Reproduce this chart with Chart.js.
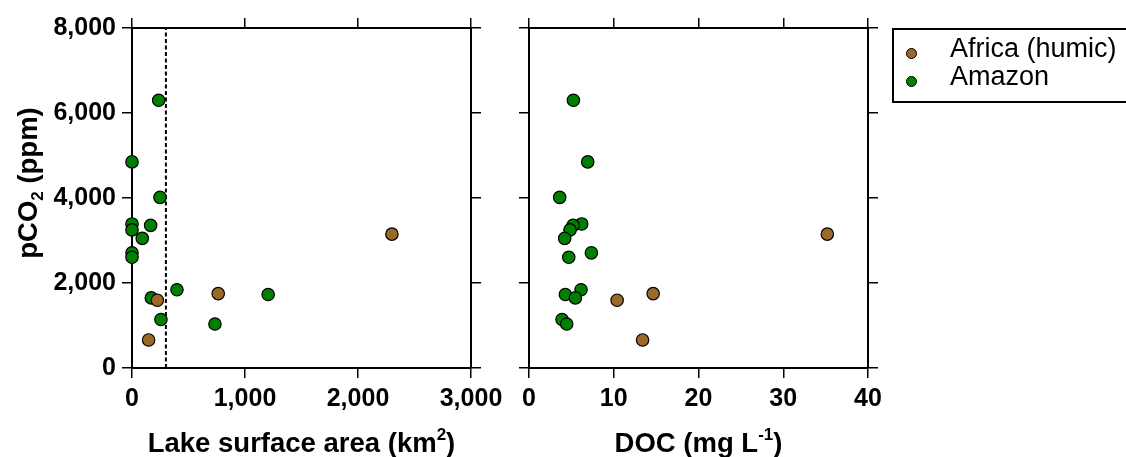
<!DOCTYPE html>
<html>
<head>
<meta charset="utf-8">
<title>pCO2 vs lake area and DOC</title>
<script src="https://cdn.jsdelivr.net/npm/chart.js@4.4.1/dist/chart.umd.min.js"></script>
<style>
    body {
        margin: 0;
        background: #fff;
        width: 1126px;
        height: 457px;
        overflow: hidden;
        position: relative;
        font-family: 'Liberation Sans', Arial, sans-serif;
    }
    #chart-area { position: absolute; left: 0; top: 0; }
    #chart-doc { position: absolute; left: 500px; top: 0; }
    #legend {
        position: absolute;
        left: 892px;
        top: 28px;
        width: 260px;
        height: 75px;
        box-sizing: border-box;
        border: 2px solid #000;
    }
    .legend-text {
        position: absolute;
        left: 56px;
        font-size: 27px;
        line-height: 1;
        white-space: nowrap;
        color: #000;
    }
    .legend-dot {
        position: absolute;
        left: 12px;
        width: 9px;
        height: 9px;
        border: 1px solid #000;
        border-radius: 50%;
    }
</style>
</head>
<body>
<canvas id="chart-area" width="520" height="457"></canvas>
<canvas id="chart-doc" width="400" height="457"></canvas>
<div id="legend"></div>

<script>
const seriesNames = ['Africa (humic)', 'Amazon'];
const seriesColors = ['#9b6a28', '#008000'];

// one entry per lake: surface area (km2), DOC (mg/L), pCO2 (ppm)
const africaArea = [2300, 763, 224, 147];
const africaDoc = [35.2, 14.65, 10.4, 13.4];
const africaPco2 = [3150, 1750, 1595, 660];

const amazonArea = [236, 0, 248, 0, 165, 0, 91, 0, 0, 398, 1205, 171, 256, 734];
const amazonDoc = [5.24, 6.93, 3.62, 6.22, 5.2, 4.84, 4.21, 7.36, 4.69, 6.14, 4.29, 5.47, 3.9, 4.45];
const amazonPco2 = [6300, 4850, 4015, 3390, 3355, 3250, 3050, 2710, 2605, 1840, 1730, 1650, 1140, 1035];

const areaTicks = [0, 1000, 2000, 3000];
const docTicks = [0, 10, 20, 30, 40];
const pco2Ticks = [0, 2000, 4000, 6000, 8000];

// dashed cut-off on the lake area panel
const areaCutoff = 300;

const areaTitle = [['Lake surface area (km'], ['2', 'sup'], [')']];
const docTitle = [['DOC (mg L'], ['-1', 'sup'], [')']];
const pco2Title = [['pCO'], ['2', 'sub'], [' (ppm)']];

const fontFamily = "'Liberation Sans', Arial, sans-serif";
const tickFont = { family: fontFamily, size: 25, weight: 'bold' };
const titleSize = 27.5;

function toPoints(xs, ys) {
    return xs.map((x, i) => ({ x: x, y: ys[i] }));
}

function makeAxis(axis, position, values, showLabels, size) {
    const horizontal = axis === 'x';
    return {
        type: 'linear',
        axis: axis,
        position: position,
        min: values[0],
        max: values[values.length - 1],
        afterBuildTicks: scale => {
            scale.ticks = values.map(v => ({ value: v }));
        },
        ticks: {
            display: showLabels,
            autoSkip: false,
            maxRotation: 0,
            color: '#000',
            padding: 6,
            font: tickFont,
            callback: v => v.toLocaleString('en-US')
        },
        grid: {
            drawOnChartArea: false,
            drawTicks: true,
            tickLength: 10,
            color: '#000',
            lineWidth: 1.5
        },
        border: { display: true, color: '#000', width: 2 },
        afterFit: scale => {
            if (horizontal) scale.height = size;
            else scale.width = size;
        }
    };
}

// text with a raised or lowered piece, centred on x
function drawRich(ctx, parts, x, y) {
    const big = `bold ${titleSize}px ${fontFamily}`;
    const small = `bold ${Math.round(titleSize * 0.62)}px ${fontFamily}`;
    let width = 0;
    parts.forEach(p => {
        ctx.font = p[1] ? small : big;
        width += ctx.measureText(p[0]).width;
    });
    let cx = x - width / 2;
    parts.forEach(p => {
        ctx.font = p[1] ? small : big;
        let dy = 0;
        if (p[1] === 'sup') dy = -titleSize * 0.42;
        if (p[1] === 'sub') dy = titleSize * 0.2;
        ctx.fillText(p[0], cx, y + dy);
        cx += ctx.measureText(p[0]).width;
    });
}

function axisTitles(xParts, yParts) {
    return {
        id: 'axisTitles',
        afterDraw(chart) {
            const { ctx, chartArea } = chart;
            ctx.save();
            ctx.fillStyle = '#000';
            ctx.textAlign = 'left';
            ctx.textBaseline = 'alphabetic';
            drawRich(ctx, xParts, (chartArea.left + chartArea.right) / 2, chart.height - 5);
            if (yParts) {
                ctx.translate(37, (chartArea.top + chartArea.bottom) / 2 - 15);
                ctx.rotate(-Math.PI / 2);
                drawRich(ctx, yParts, 0, 0);
            }
            ctx.restore();
        }
    };
}

function seriesDataset(i, xs, ys) {
    return {
        label: seriesNames[i],
        data: toPoints(xs, ys),
        backgroundColor: seriesColors[i],
        borderColor: '#000',
        borderWidth: 1.2,
        pointRadius: 6.2,
        pointHoverRadius: 6.2,
        clip: false
    };
}

function createScatter(canvas, datasets, xValues, showYLabels, sizes, xTitle, yTitle) {
    return new Chart(canvas, {
        type: 'scatter',
        data: { datasets: datasets },
        options: {
            responsive: false,
            animation: false,
            layout: { padding: 0 },
            plugins: {
                legend: { display: false },
                tooltip: { enabled: false }
            },
            scales: {
                x: makeAxis('x', 'bottom', xValues, true, sizes.bottom),
                x2: makeAxis('x', 'top', xValues, false, sizes.top),
                y: makeAxis('y', 'left', pco2Ticks, showYLabels, sizes.left),
                y2: makeAxis('y', 'right', pco2Ticks, false, sizes.right)
            }
        },
        plugins: [axisTitles(xTitle, yTitle)]
    });
}

createScatter(
    document.getElementById('chart-area'),
    [
        seriesDataset(0, africaArea, africaPco2),
        seriesDataset(1, amazonArea, amazonPco2),
        {
            type: 'line',
            label: 'cut-off',
            data: [{ x: areaCutoff, y: pco2Ticks[0] }, { x: areaCutoff, y: pco2Ticks[pco2Ticks.length - 1] }],
            borderColor: '#000',
            borderWidth: 2,
            borderDash: [4, 2.5],
            pointRadius: 0
        }
    ],
    areaTicks, true,
    { left: 132, right: 49, top: 28, bottom: 89 },
    areaTitle, pco2Title
);

createScatter(
    document.getElementById('chart-doc'),
    [
        seriesDataset(0, africaDoc, africaPco2),
        seriesDataset(1, amazonDoc, amazonPco2)
    ],
    docTicks, false,
    { left: 29, right: 32, top: 28, bottom: 89 },
    docTitle, null
);

// legend box
const legend = document.getElementById('legend');
seriesNames.forEach((name, i) => {
    const dot = document.createElement('span');
    dot.className = 'legend-dot';
    dot.style.top = (18 + i * 27.7) + 'px';
    dot.style.background = seriesColors[i];
    legend.appendChild(dot);

    const text = document.createElement('span');
    text.className = 'legend-text';
    text.style.top = (5 + i * 28.3) + 'px';
    text.textContent = name;
    legend.appendChild(text);
});
</script>
</body>
</html>
